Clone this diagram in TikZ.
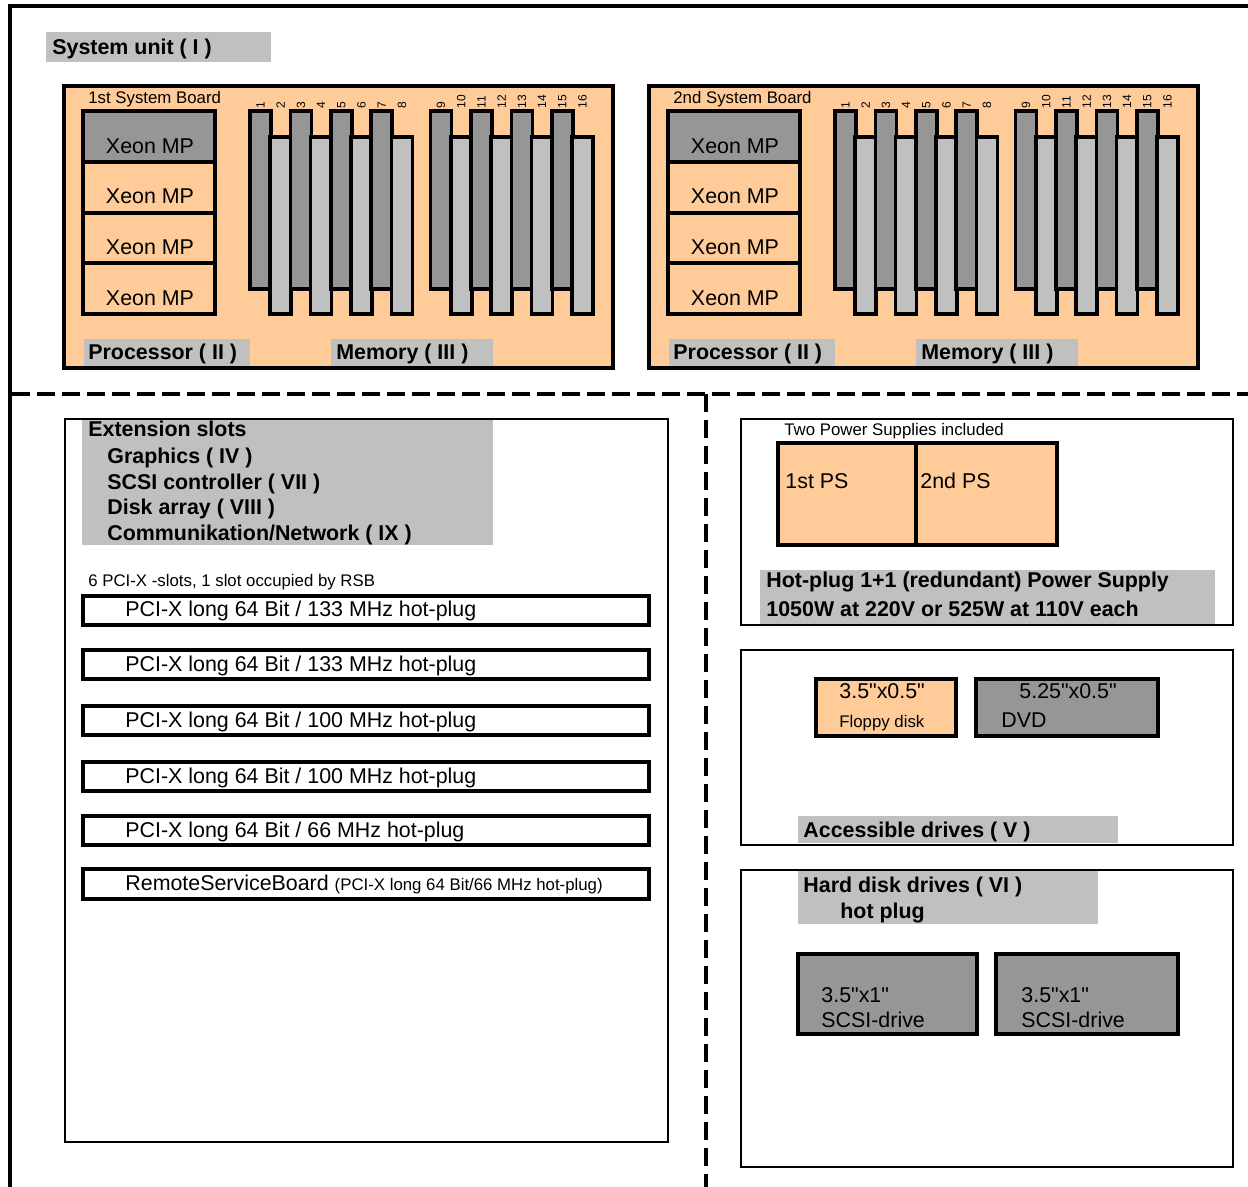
\documentclass[tikz,border=0pt]{standalone}
\usepackage{fontspec}
\newfontfamily\arialfont{Liberation Sans}
\definecolor{board}{HTML}{FFCC99}
\definecolor{darkslot}{HTML}{969696}
\definecolor{midgray}{HTML}{C0C0C0}

\tikzset{
  heavyline/.style={draw=black, line width=2pt},
  slotline/.style={draw=black, line width=1.75pt},
  thinline/.style={draw=black, line width=1pt},
  txt/.style={anchor=base west, inner sep=0pt, font=\arialfont\fontsize{10.7}{12}\selectfont},
  boldtxt/.style={txt, font=\arialfont\fontsize{10.7}{12}\selectfont\bfseries},
  smalltxt/.style={txt, font=\arialfont\fontsize{8.4}{10}\selectfont},
  numtxt/.style={rotate=90, anchor=west, inner sep=0pt, font=\arialfont\fontsize{6}{7}\selectfont}
}

\begin{document}
\begin{tikzpicture}[x=0.5pt, y=-0.5pt]
    \useasboundingbox (0,0) rectangle (1248,1187);

    % system unit frame and separators
    \draw[line width=2pt] (10,1187) -- (10,6) -- (1248,6);
    \draw[line width=2pt, dash pattern=on 9pt off 3.5pt] (12,394) -- (1248,394);
    \draw[line width=2pt, dash pattern=on 9pt off 4pt] (706,394) -- (706,1187);

    \fill[midgray] (46,32) rectangle (271,62);
    \node[boldtxt] (unit) at (52,55) {System unit ( I )};

    % the two system boards
    \foreach \ox/\ord in {0/1st, 585/2nd} {
        \begin{scope}[shift={(\ox,0)}]
            \filldraw[fill=board, heavyline] (64,86) rectangle (613,368);
            \node[smalltxt] (sb\ord) at (88,104) {\ord\ System Board};

            \filldraw[fill=darkslot, heavyline] (83,111) rectangle (215,162);
            \draw[heavyline] (83,162) rectangle (215,213);
            \draw[heavyline] (83,213) rectangle (215,263);
            \draw[heavyline] (83,263) rectangle (215,314);
            \node[txt, anchor=base] (cpu\ord-1) at (150,154) {Xeon MP};
            \node[txt, anchor=base] (cpu\ord-2) at (150,204) {Xeon MP};
            \node[txt, anchor=base] (cpu\ord-3) at (150,255) {Xeon MP};
            \node[txt, anchor=base] (cpu\ord-4) at (150,306) {Xeon MP};

            \foreach \k in {1,...,16} {
                \pgfmathsetmacro\sx{250+(\k-1)*20.2+(\k>8)*19}
                \ifodd\k
                    \filldraw[fill=darkslot, slotline] (\sx,111) rectangle ++(21,178);
                \else
                    \filldraw[fill=midgray, slotline] (\sx,137) rectangle ++(21,177);
                \fi
                \node[numtxt] (m\ord-\k) at (\sx+10.5,109) {\k};
            }

            \fill[midgray] (84,339) rectangle (250,366);
            \node[boldtxt] (proc\ord) at (88,360) {Processor ( II )};
            \fill[midgray] (331,339) rectangle (493,366);
            \node[boldtxt] (mem\ord) at (336,360) {Memory ( III )};
        \end{scope}
    }

    % extension slots
    \fill[midgray] (82,420) rectangle (493,545);
    \draw[thinline] (65,419) rectangle (668,1142);
    \node[boldtxt] (ext) at (88,437) {Extension slots};
    \node[boldtxt] (gfx) at (107,464) {Graphics ( IV )};
    \node[boldtxt] (scsi) at (107,490) {SCSI controller ( VII )};
    \node[boldtxt] (array) at (107,515) {Disk array ( VIII )};
    \node[boldtxt] (net) at (107,540) {Communikation/Network ( IX )};
    \node[smalltxt] (pcinote) at (88,587) {6 PCI-X -slots, 1 slot occupied by RSB};

    \filldraw[fill=white, heavyline] (83,596) rectangle (649,625);
    \node[txt] (pci1) at (125,617) {PCI-X long 64 Bit / 133 MHz hot-plug};
    \filldraw[fill=white, heavyline] (83,650) rectangle (649,679);
    \node[txt] (pci2) at (125,671) {PCI-X long 64 Bit / 133 MHz hot-plug};
    \filldraw[fill=white, heavyline] (83,706) rectangle (649,735);
    \node[txt] (pci3) at (125,727) {PCI-X long 64 Bit / 100 MHz hot-plug};
    \filldraw[fill=white, heavyline] (83,762) rectangle (649,791);
    \node[txt] (pci4) at (125,783) {PCI-X long 64 Bit / 100 MHz hot-plug};
    \filldraw[fill=white, heavyline] (83,816) rectangle (649,845);
    \node[txt] (pci5) at (125,837) {PCI-X long 64 Bit / 66 MHz hot-plug};
    \filldraw[fill=white, heavyline] (83,869) rectangle (649,899);
    \node[txt] (rsb) at (125,890) {RemoteServiceBoard {\fontsize{8.4}{10}\selectfont(PCI-X long 64 Bit/66 MHz hot-plug)}};

    % power supplies
    \fill[midgray] (760,570) rectangle (1215,624);
    \draw[thinline] (741,419) rectangle (1233,625);
    \node[smalltxt] (psnote) at (784,436) {Two Power Supplies included};
    \filldraw[fill=board, heavyline] (778,443) rectangle (916,545);
    \filldraw[fill=board, heavyline] (916,443) rectangle (1057,545);
    \node[txt] (ps1) at (785,489) {1st PS};
    \node[txt] (ps2) at (920,489) {2nd PS};
    \node[boldtxt] (psa) at (766,588) {Hot-plug 1+1 (redundant) Power Supply};
    \node[boldtxt] (psb) at (766,617) {1050W at 220V or 525W at 110V each};

    % accessible drives
    \fill[midgray] (798,816) rectangle (1118,843);
    \draw[thinline] (741,650) rectangle (1233,845);
    \filldraw[fill=board, heavyline] (816,679) rectangle (956,736);
    \filldraw[fill=darkslot, heavyline] (976,679) rectangle (1158,736);
    \node[txt] (fdsize) at (839,698) {3.5"x0.5"};
    \node[smalltxt] (fd) at (839,727) {Floppy disk};
    \node[txt] (dvdsize) at (1019,698) {5.25"x0.5"};
    \node[txt] (dvd) at (1001,727) {DVD};
    \node[boldtxt] (acc) at (803,837) {Accessible drives ( V )};

    % hard disks
    \fill[midgray] (798,871) rectangle (1098,924);
    \draw[thinline] (741,870) rectangle (1233,1167);
    \node[boldtxt] (hdd) at (803,892) {Hard disk drives ( VI )};
    \node[boldtxt] (hotplug) at (840,918) {hot plug};
    \filldraw[fill=darkslot, heavyline] (798,954) rectangle (977,1034);
    \filldraw[fill=darkslot, heavyline] (996,954) rectangle (1178,1034);
    \node[txt] (hd1size) at (821,1002) {3.5"x1"};
    \node[txt] (hd1) at (821,1027) {SCSI-drive};
    \node[txt] (hd2size) at (1021,1002) {3.5"x1"};
    \node[txt] (hd2) at (1021,1027) {SCSI-drive};
\end{tikzpicture}
\end{document}
